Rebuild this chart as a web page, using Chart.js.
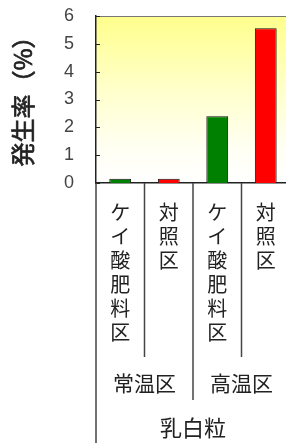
<!DOCTYPE html>
<html>
<head>
<meta charset="utf-8">
<script src="https://cdn.jsdelivr.net/npm/chart.js@4.4.0/dist/chart.umd.min.js"></script>
<style>
html, body { margin: 0; padding: 0; overflow: hidden; background: #fff; }
canvas { display: block; }
</style>
</head>
<body>
<canvas id="mycanvas" width="300" height="443"></canvas>
<script>
// data
var categories = ['ケイ酸肥料区', '対照区', 'ケイ酸肥料区', '対照区'];
var groups = ['常温区', '高温区'];
var topGroup = '乳白粒';
var values = [0.15, 0.15, 2.4, 5.56];
var yTitle = '発生率（%）';
var yMin = 0, yMax = 6, yStep = 1;

var barColors = ['#008000', '#ff0000', '#008000', '#ff0000'];
var jpFont = '"Noto Sans CJK JP", sans-serif';

// each character on its own line (vertical text)
var labels = categories.map(function(s){ return s.split(''); });

var excelLook = {
	id: 'excelLook',
	beforeDraw: function(chart){
		var ctx = chart.ctx, a = chart.chartArea;
		var g = ctx.createLinearGradient(0, a.top, 0, a.bottom);
		g.addColorStop(0, '#ffff8c');
		g.addColorStop(0.45, '#ffffcc');
		g.addColorStop(0.8, '#fffff4');
		g.addColorStop(1, '#ffffff');
		ctx.save();
		ctx.fillStyle = g;
		ctx.fillRect(a.left, a.top, a.right - a.left, a.bottom - a.top);
		ctx.restore();
	},
	afterDraw: function(chart){
		var ctx = chart.ctx, a = chart.chartArea;
		var x = chart.scales.x, y = chart.scales.y;
		var H = chart.height;
		ctx.save();
		// top border of plot area
		ctx.strokeStyle = '#777';
		ctx.lineWidth = 1;
		ctx.beginPath();
		ctx.moveTo(a.left, a.top + 0.5);
		ctx.lineTo(a.right, a.top + 0.5);
		ctx.stroke();

		// inward tick marks on the value axis
		ctx.strokeStyle = '#222';
		y.ticks.forEach(function(t){
			var py = Math.round(y.getPixelForValue(t.value)) + 0.5;
			ctx.beginPath();
			ctx.moveTo(a.left, py);
			ctx.lineTo(a.left + 4, py);
			ctx.stroke();
		});

		// value axis title, rotated
		ctx.save();
		ctx.font = '24px ' + jpFont;
		ctx.translate(23, 95.5);
		ctx.rotate(-Math.PI / 2);
		ctx.fillStyle = '#222';
		ctx.strokeStyle = '#222';
		ctx.lineWidth = 0.7;
		ctx.textAlign = 'center';
		ctx.textBaseline = 'middle';
		ctx.fillText(yTitle, 0, 0);
		ctx.strokeText(yTitle, 0, 0);
		ctx.restore();

		// dividers in the category area
		var half = (x.getPixelForValue(1) - x.getPixelForValue(0)) / 2;
		ctx.strokeStyle = '#444';
		ctx.lineWidth = 1.5;
		function vline(px, y2){
			ctx.beginPath();
			ctx.moveTo(px, a.bottom);
			ctx.lineTo(px, y2);
			ctx.stroke();
		}
		vline(a.left, H);
		for (var i = 0; i < categories.length - 1; i++) {
			var px = x.getPixelForValue(i) + half;
			vline(px, (i % 2 === 1) ? a.bottom + 217 : a.bottom + 174);
		}

		// group labels
		ctx.fillStyle = '#222';
		ctx.font = '21px ' + jpFont;
		ctx.textAlign = 'center';
		ctx.textBaseline = 'middle';
		for (var k = 0; k < groups.length; k++) {
			var cx = (x.getPixelForValue(k * 2) + x.getPixelForValue(k * 2 + 1)) / 2;
			ctx.fillText(groups[k], cx, a.bottom + 200);
		}
		var mid = (x.getPixelForValue(0) + x.getPixelForValue(categories.length - 1)) / 2;
		ctx.font = '22px ' + jpFont;
		ctx.fillText(topGroup, mid, a.bottom + 245);
		ctx.restore();
	}
};

var chartdata = {
	labels: labels,
	datasets: [
	{
		data: values,
		backgroundColor: barColors,
		borderColor: '#111',
		borderWidth: 1,
		barPercentage: 0.45,
		categoryPercentage: 1
	}
	]
};

var ctx = document.getElementById('mycanvas');
var BarGraph = new Chart(ctx, {
	type: 'bar',
	data: chartdata,
	plugins: [excelLook],
	options: {
		responsive: false,
		animation: false,
		layout: { padding: { top: 0, right: 10, left: 0, bottom: 0 } },
		plugins: {
			legend: { display: false },
			tooltip: { enabled: false }
		},
		scales: {
			x: {
				grid: { display: false, drawTicks: false },
				border: { color: '#222', width: 1.5 },
				ticks: {
					color: '#222',
					maxRotation: 0,
					autoSkip: false,
					padding: 17,
					font: { family: jpFont, size: 20, lineHeight: 1.2 }
				},
				afterFit: function(scale){ scale.height = 260; }
			},
			y: {
				min: yMin,
				max: yMax,
				grid: { display: false, drawTicks: false },
				border: { color: '#222', width: 1.5 },
				ticks: {
					stepSize: yStep,
					color: '#444',
					padding: 22,
					font: { family: '"Liberation Sans Narrow", "Liberation Sans", sans-serif', size: 18 }
				},
				afterFit: function(scale){
					scale.width = 96;
					scale.paddingTop = 16;
					scale.paddingBottom = 0;
				}
			}
		}
	}
});
</script>
</body>
</html>
